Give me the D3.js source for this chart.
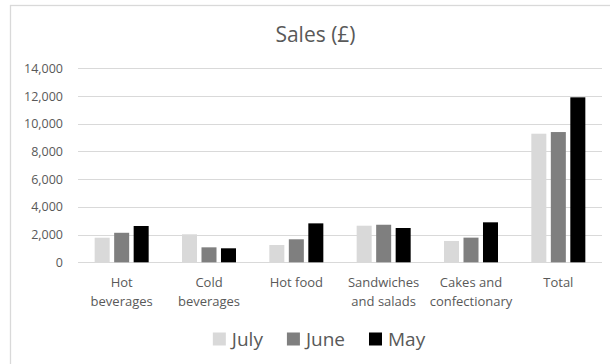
<!DOCTYPE html>
<html lang="en">
<head>
  <meta charset="UTF-8">
  <title>Sales (£)</title>
  <script src="https://d3js.org/d3.v7.min.js"></script>
  <style>
    body { margin: 0; background: #fff; }
    svg { display: block; font-family: "Open Sans", sans-serif; }
    .tick text { fill: #595959; }
  </style>
</head>
<body>
  <div id="chart"></div>
  <script>
    // data
    const categories = ["Hot beverages", "Cold beverages", "Hot food", "Sandwiches and salads", "Cakes and confectionary", "Total"];
    const catLines = [["Hot", "beverages"], ["Cold", "beverages"], ["Hot food"], ["Sandwiches", "and salads"], ["Cakes and", "confectionary"], ["Total"]];
    const series = ["July", "June", "May"];
    const july = [1775, 2020, 1250, 2640, 1540, 9280];
    const june = [2130, 1080, 1660, 2710, 1780, 9400];
    const may = [2620, 1010, 2810, 2475, 2885, 11905];
    const yTicks = [0, 2000, 4000, 6000, 8000, 10000, 12000, 14000];
    const colors = ["#d9d9d9", "#7f7f7f", "#000000"];

    const values = [july, june, may];
    const width = 610, height = 364;
    const plot = { left: 78, right: 602, top: 68.3, bottom: 262.3 };

    const svg = d3.select("#chart").append("svg")
      .attr("width", width)
      .attr("height", height);

    // chart frame
    svg.append("rect")
      .attr("x", 10.5).attr("y", 5.5)
      .attr("width", 700).attr("height", 500)
      .attr("fill", "none")
      .attr("stroke", "#d9d9d9")
      .attr("stroke-width", 1.3);

    const x = d3.scaleBand()
      .domain(categories)
      .range([plot.left, plot.right]);

    const xs = d3.scaleBand()
      .domain(series)
      .range([-27, 27])
      .paddingInner(0.23);

    const y = d3.scaleLinear()
      .domain([0, 14000])
      .range([plot.bottom, plot.top]);

    // gridlines
    svg.append("g")
      .selectAll("line")
      .data(yTicks)
      .join("line")
      .attr("x1", plot.left).attr("x2", plot.right)
      .attr("y1", d => Math.round(y(d)) + 0.5)
      .attr("y2", d => Math.round(y(d)) + 0.5)
      .attr("stroke", "#d9d9d9")
      .attr("stroke-width", 1.2);

    // y axis labels
    const yAxis = svg.append("g")
      .attr("transform", `translate(${plot.left - 15},0)`)
      .call(d3.axisLeft(y).tickValues(yTicks).tickFormat(d3.format(",")).tickSize(0).tickPadding(0));
    yAxis.select(".domain").remove();
    yAxis.selectAll("text")
      .attr("font-size", 12.5)
      .attr("font-family", "Open Sans, sans-serif");

    // bars
    svg.append("g")
      .selectAll("g")
      .data(series)
      .join("g")
      .attr("fill", (d, i) => colors[i])
      .selectAll("rect")
      .data((s, i) => categories.map((c, j) => ({ c, s, v: values[i][j] })))
      .join("rect")
      .attr("x", d => x(d.c) + x.bandwidth() / 2 + xs(d.s))
      .attr("width", xs.bandwidth())
      .attr("y", d => y(d.v))
      .attr("height", d => y(0) - y(d.v));

    // category labels
    const catG = svg.append("g")
      .attr("font-size", 13)
      .attr("fill", "#595959")
      .attr("text-anchor", "middle");
    categories.forEach((c, i) => {
      const t = catG.append("text")
        .attr("x", x(c) + x.bandwidth() / 2)
        .attr("y", 287.3);
      catLines[i].forEach((line, k) => {
        t.append("tspan")
          .attr("x", x(c) + x.bandwidth() / 2)
          .attr("dy", k === 0 ? 0 : 18.2)
          .text(line);
      });
    });

    // title
    svg.append("text")
      .attr("x", 315.5)
      .attr("y", 41.5)
      .attr("text-anchor", "middle")
      .attr("font-size", 21)
      .attr("fill", "#595959")
      .text("Sales (£)");

    // legend
    const legend = svg.append("g")
      .attr("font-size", 19)
      .attr("fill", "#595959");
    const items = legend.selectAll("g")
      .data(series)
      .join("g");
    items.append("rect")
      .attr("width", 13).attr("height", 13)
      .attr("y", 332.5)
      .attr("fill", (d, i) => colors[i]);
    items.append("text")
      .attr("x", 19)
      .attr("y", 345.5)
      .text(d => d);
    let widths = [];
    items.each(function () {
      widths.push(19 + d3.select(this).select("text").node().getComputedTextLength());
    });
    const gap = 24;
    const total = d3.sum(widths) + gap * (widths.length - 1);
    let cx = 319 - total / 2;
    items.attr("transform", (d, i) => {
      const tx = cx;
      cx += widths[i] + gap;
      return `translate(${tx},0)`;
    });
  </script>
</body>
</html>
